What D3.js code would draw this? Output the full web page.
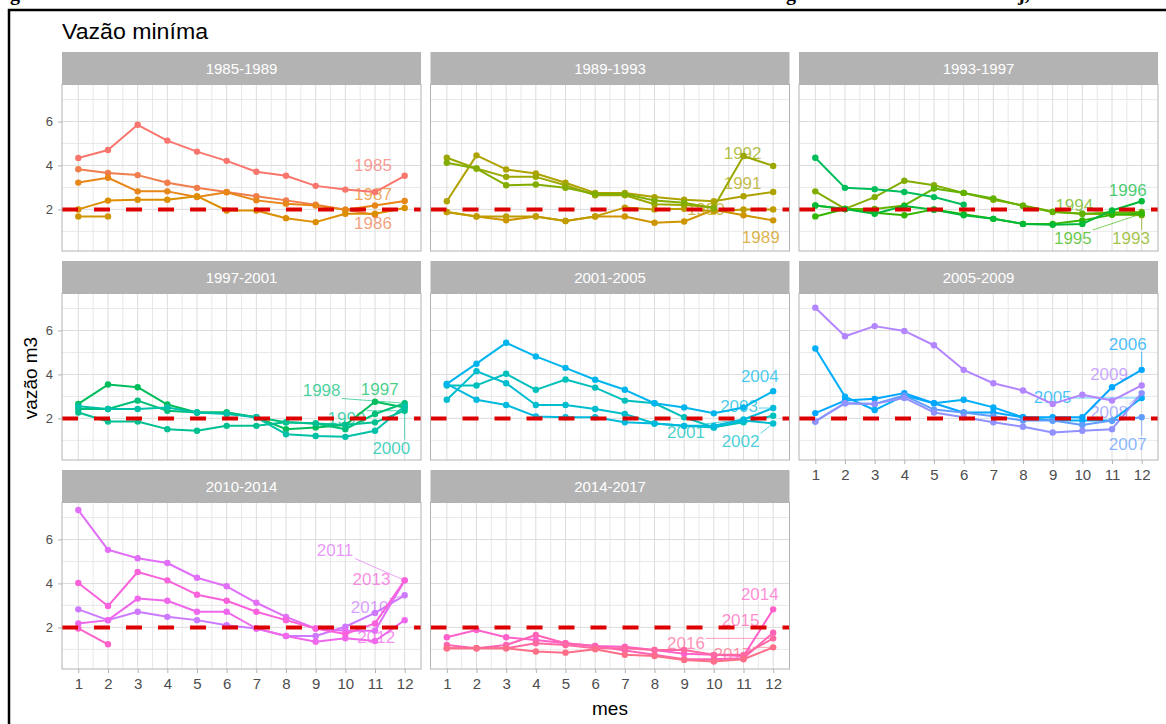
<!DOCTYPE html>
<html>
<head>
<meta charset="utf-8">
<script src="https://cdn.jsdelivr.net/npm/d3@7"></script>
<style>
  html, body { margin: 0; padding: 0; background: #fff; }
  svg { display: block; }
</style>
</head>
<body>
<svg id="chart" width="1166" height="724"></svg>
<script>
// ---------------- DATA ----------------
const months = [1,2,3,4,5,6,7,8,9,10,11,12];
const panels = ["1985-1989","1989-1993","1993-1997","1997-2001","2001-2005","2005-2009","2010-2014","2014-2017"];
const years = d3.range(1985, 2018);
const yTicks = [2,4,6];
const threshold = 2;

const p1985_1989 = [
  [1985, [4.34,4.70,5.85,5.13,4.63,4.21,3.71,3.53,3.07,2.90,2.79,3.53]],
  [1986, [3.83,3.66,3.56,3.21,2.98,2.79,2.60,2.41,2.21,1.98,1.75]],
  [1987, [3.22,3.44,2.82,2.82,2.56,2.78,2.41,2.26,2.18,1.98,2.18,2.38]],
  [1988, [2.00,2.40,2.44,2.44,2.60,1.95,1.95,1.60,1.42,1.80,1.80,2.06]],
  [1989, [1.68,1.68]]
];
const p1989_1993 = [
  [1989, [1.88,1.68,1.50,1.68,1.47,1.68,1.68,1.39,1.45,1.98,1.73,1.50]],
  [1990, [1.88,1.68,1.68,1.68,1.47,1.68,2.08,2.00,2.03,1.90,2.00,2.00]],
  [1991, [2.37,4.46,3.82,3.63,3.21,2.75,2.75,2.56,2.44,2.37,2.60,2.79]],
  [1992, [4.35,3.86,3.48,3.48,3.10,2.64,2.64,2.23,2.20,2.10,4.43,3.98]],
  [1993, [4.12,3.86,3.10,3.13,2.98,2.70,2.70,2.40,2.30,2.05]]
];
const p1993_1997 = [
  [1993, [2.82,2.02,2.56,3.30,3.10,2.75,2.44,2.18,1.90,1.80,1.78,1.73]],
  [1994, [2.18,2.02,2.02,2.18,2.95,2.75,2.50,2.15,1.88,1.80,1.85,1.88]],
  [1995, [1.68,2.02,1.85,1.73,2.00,1.78,1.57,1.34,1.34,1.50,1.75,1.80]],
  [1996, [2.18,2.02,1.80,2.15,1.98,1.73,1.57,1.34,1.30,1.34,1.95,2.37]],
  [1997, [4.35,2.98,2.92,2.79,2.56,2.21]]
];
const p1997_2001 = [
  [1997, [2.66,3.54,3.42,2.63,2.27,2.27,2.05,1.51,1.59,1.70,2.76,2.50]],
  [1998, [2.43,2.43,2.81,2.35,2.27,2.27,2.05,1.82,1.77,1.51,2.20,2.69]],
  [1999, [2.27,1.86,1.86,1.51,1.44,1.66,1.66,1.82,1.77,1.70,1.82,2.35]],
  [2000, [2.55,2.43,2.43,2.50,2.27,2.20,2.05,1.28,1.20,1.16,1.44,2.55]]
];
const p2001_2005 = [
  [2001, [3.50,3.50,4.03,3.30,3.77,3.40,2.81,2.69,2.05,1.59,1.82,2.12]],
  [2002, [2.85,4.15,3.60,2.61,2.61,2.43,2.20,1.77,1.66,1.59,1.90,1.77]],
  [2003, [3.57,2.85,2.61,2.09,2.05,2.05,1.82,1.77,1.66,1.66,1.95,2.47]],
  [2004, [3.57,4.49,5.44,4.82,4.30,3.76,3.30,2.69,2.50,2.23,2.50,3.24]]
];
const p2005_2009 = [
  [2005, [5.18,2.99,2.38,3.04,2.69,2.85,2.50,2.05,1.90,1.90,1.90,2.93]],
  [2006, [2.24,2.81,2.89,3.15,2.69,2.27,2.27,2.05,2.05,2.05,3.42,4.21]],
  [2007, [1.86,2.69,2.66,3.04,2.40,2.27,2.10,1.90,1.90,1.70,1.90,2.05]],
  [2008, [1.86,2.69,2.66,2.93,2.27,2.05,1.82,1.62,1.36,1.44,1.51,3.15]],
  [2009, [7.04,5.74,6.20,5.98,5.33,4.21,3.60,3.27,2.66,3.08,2.81,3.50]]
];
const p2010_2014 = [
  [2010, [2.82,2.33,2.71,2.48,2.33,2.10,1.95,1.61,1.61,2.03,2.66,3.46]],
  [2011, [7.34,5.53,5.15,4.93,4.26,3.87,3.12,2.48,1.95,1.85,1.85,4.14]],
  [2012, [2.18,2.33,3.31,3.21,2.71,2.71,1.95,1.61,1.35,1.50,1.38,2.33]],
  [2013, [4.02,2.97,4.52,4.14,3.49,3.21,2.71,2.33,1.95,1.70,2.18,4.14]],
  [2014, [1.95,1.23]]
];
const p2014_2017 = [
  [2014, [1.55,1.88,1.55,1.43,1.28,1.15,1.12,0.97,0.80,0.75,0.70,2.82]],
  [2015, [1.20,1.05,1.20,1.65,1.28,1.15,0.95,0.75,0.55,0.55,0.60,1.76]],
  [2016, [1.05,1.05,1.05,1.28,1.20,1.05,1.05,0.97,0.97,0.75,0.75,1.50]],
  [2017, [1.05,1.05,1.05,0.90,0.85,1.00,0.75,0.70,0.52,0.45,0.55,1.09]]
];
const panelSeries = [p1985_1989, p1989_1993, p1993_1997, p1997_2001, p2001_2005, p2005_2009, p2010_2014, p2014_2017];

// label anchors (panel index, year, month, value) in data units, as placed by the repel step
const yearLabels = [
  [0,1985,10.93,4.02],[0,1987,10.93,2.72],[0,1986,10.93,1.37],
  [1,1992,10.97,4.55],[1,1991,10.97,3.20],[1,1990,9.73,2.03],[1,1989,11.58,0.76],
  [2,1996,11.53,2.90],[2,1994,9.73,2.18],[2,1995,9.68,0.70],[2,1993,11.64,0.70],
  [3,1998,9.20,3.27],[3,1997,11.16,3.34],[3,1999,10.04,2.00],[3,2000,11.55,0.67],
  [4,2004,11.55,3.95],[4,2003,10.85,2.58],[4,2001,9.06,1.39],[4,2002,10.90,0.95],
  [5,2006,11.53,5.40],[5,2009,10.90,4.03],[5,2005,9.00,2.96],[5,2008,10.90,2.27],[5,2007,11.53,0.85],
  [6,2011,9.65,5.50],[6,2013,10.88,4.22],[6,2010,10.82,2.94],[6,2012,11.04,1.58],
  [7,2014,11.55,3.54],[7,2015,10.90,2.33],[7,2016,9.06,1.30],[7,2017,10.63,0.79]
];

// ---------------- COLOURS (ggplot hue palette, polar LUV) ----------------
function hclLuv(h, c, l) {
  const Xn = 95.047, Yn = 100, Zn = 108.883;
  const hr = h * Math.PI / 180;
  const U = c * Math.cos(hr), V = c * Math.sin(hr);
  const Y = l > 8 ? Yn * Math.pow((l + 16) / 116, 3) : Yn * l / 903.3;
  const t = Xn + 15 * Yn + 3 * Zn;
  const un = 4 * Xn / t, vn = 9 * Yn / t;
  const u = U / (13 * l) + un, v = V / (13 * l) + vn;
  const X = 9 * Y * u / (4 * v);
  const Z = -X / 3 - 5 * Y + 3 * Y / v;
  const x = X / 100, y = Y / 100, z = Z / 100;
  let r = 3.240479 * x - 1.537150 * y - 0.498535 * z;
  let g = -0.969256 * x + 1.875992 * y + 0.041556 * z;
  let b = 0.055648 * x - 0.204043 * y + 1.057311 * z;
  const gam = q => { q = q <= 0.0031308 ? 12.92 * q : 1.055 * Math.pow(q, 1 / 2.4) - 0.055; return Math.max(0, Math.min(1, q)); };
  return d3.rgb(gam(r) * 255, gam(g) * 255, gam(b) * 255).formatHex();
}
const hues = years.map((y, i) => 15 + i * 360 / years.length);
const color = d3.scaleOrdinal().domain(years).range(hues.map(h => hclLuv(h, 100, 65)));

// ---------------- LAYOUT ----------------
const svg = d3.select("#chart");
const FONT = "'Liberation Sans', Arial, sans-serif";
svg.append("rect").attr("width", 1166).attr("height", 724).attr("fill", "#fff");

// document frame and the clipped caption line above it (only descenders visible, as in the source)
svg.append("path").attr("d", "M9,724 V10 H1166").attr("fill", "none").attr("stroke", "#000").attr("stroke-width", 2.5);
const cap = svg.append("g").attr("font-family", "'Liberation Serif', 'Times New Roman', serif").attr("font-weight", "bold").attr("font-size", 20);
cap.append("text").attr("x", 10).attr("y", 0).text("g");
cap.append("text").attr("x", 786).attr("y", 0).text("g");
cap.append("text").attr("x", 1018).attr("y", 0).text("j,");

const colX = [62, 430.5, 799], colW = 359;
const rowY = [52, 261, 470], stripH = 32.5, plotH = 166.5;

const allVals = panelSeries.flatMap(p => p.flatMap(s => s[1]));
const [vmin, vmax] = d3.extent(allVals);
const vpad = (vmax - vmin) * 0.05;
const xDom = [1 - 0.55, 12 + 0.55];

panels.forEach((name, i) => {
  const col = i % 3, row = Math.floor(i / 3);
  const x0 = colX[col], top = rowY[row] + stripH, bottom = top + plotH;
  const x = d3.scaleLinear().domain(xDom).range([x0, x0 + colW]);
  const y = d3.scaleLinear().domain([vmin - vpad, vmax + vpad]).range([bottom, top]);
  const g = svg.append("g");

  // strip
  g.append("rect").attr("x", x0).attr("y", rowY[row]).attr("width", colW).attr("height", stripH).attr("fill", "#b3b3b3");
  g.append("text").attr("x", x0 + colW / 2).attr("y", rowY[row] + stripH / 2 + 5.5)
    .attr("text-anchor", "middle").attr("font-family", FONT).attr("font-size", 15).attr("fill", "#fff").text(name);

  // panel + grid
  g.append("rect").attr("x", x0).attr("y", top).attr("width", colW).attr("height", plotH).attr("fill", "#fff");
  const minorX = d3.range(1.5, 12, 1), minorY = [1, 3, 5, 7];
  g.selectAll(".gmx").data(minorX).join("line")
    .attr("x1", d => x(d)).attr("x2", d => x(d)).attr("y1", top).attr("y2", bottom)
    .attr("stroke", "#e3e3e3").attr("stroke-width", 0.8);
  g.selectAll(".gmy").data(minorY).join("line")
    .attr("x1", x0).attr("x2", x0 + colW).attr("y1", d => y(d)).attr("y2", d => y(d))
    .attr("stroke", "#e3e3e3").attr("stroke-width", 0.8);
  g.selectAll(".gx").data(months).join("line")
    .attr("x1", d => x(d)).attr("x2", d => x(d)).attr("y1", top).attr("y2", bottom)
    .attr("stroke", "#dcdcdc").attr("stroke-width", 1);
  g.selectAll(".gy").data(yTicks).join("line")
    .attr("x1", x0).attr("x2", x0 + colW).attr("y1", d => y(d)).attr("y2", d => y(d))
    .attr("stroke", "#dcdcdc").attr("stroke-width", 1);

  const clipId = "clip" + i;
  svg.append("clipPath").attr("id", clipId).append("rect").attr("x", x0).attr("y", top).attr("width", colW).attr("height", plotH);
  const inner = g.append("g").attr("clip-path", `url(#${clipId})`);

  // repelled year labels (under the lines)
  const series = panelSeries[i];
  yearLabels.filter(l => l[0] === i).forEach(l => {
    const yr = l[1];
    const s = series.find(d => d[0] === yr);
    const lx = x(l[2]), ly = y(l[3]);
    if (s) {
      const vals = s[1];
      const px = x(vals.length), py = y(vals[vals.length - 1]);
      const hw = 20, hh = 8;
      const cx = Math.max(lx - hw, Math.min(lx + hw, px));
      const cy = Math.max(ly - hh, Math.min(ly + hh, py));
      const len = Math.hypot(px - cx, py - cy);
      if (len > 14) {
        const k = (len - 3) / len;
        inner.append("line").attr("x1", cx).attr("y1", cy)
          .attr("x2", cx + (px - cx) * k).attr("y2", cy + (py - cy) * k)
          .attr("stroke", color(yr)).attr("stroke-width", 0.8).attr("opacity", 0.8);
      }
    }
    inner.append("text").attr("x", lx).attr("y", ly + 6)
      .attr("text-anchor", "middle").attr("font-family", FONT).attr("font-size", 17)
      .attr("fill", color(yr)).attr("fill-opacity", 0.72).text(yr);
  });

  // lines and points
  const line = d3.line().x((d, j) => x(j + 1)).y(d => y(d));
  series.forEach(([yr, vals]) => {
    inner.append("path").attr("d", line(vals)).attr("fill", "none")
      .attr("stroke", color(yr)).attr("stroke-width", 2).attr("stroke-linejoin", "round");
    inner.selectAll(null).data(vals).join("circle")
      .attr("cx", (d, j) => x(j + 1)).attr("cy", d => y(d)).attr("r", 3.2).attr("fill", color(yr));
  });

  // threshold line
  inner.append("line").attr("x1", x0).attr("x2", x0 + colW).attr("y1", y(threshold)).attr("y2", y(threshold))
    .attr("stroke", "#dd0000").attr("stroke-width", 4).attr("stroke-dasharray", "16,16");

  // panel border
  g.append("rect").attr("x", x0).attr("y", top).attr("width", colW).attr("height", plotH)
    .attr("fill", "none").attr("stroke", "#b3b3b3").attr("stroke-width", 1);

  // axes
  if (col === 0) {
    const ay = g.append("g").attr("transform", `translate(${x0},0)`)
      .call(d3.axisLeft(y).tickValues(yTicks).tickSize(4).tickPadding(5).tickFormat(d3.format("d")));
    ay.select(".domain").remove();
    ay.selectAll(".tick line").attr("stroke", "#b3b3b3");
    ay.selectAll(".tick text").attr("font-family", FONT).attr("font-size", 13).attr("fill", "#4d4d4d");
  }
  if (i >= 5) {
    const ax = g.append("g").attr("transform", `translate(0,${bottom})`)
      .call(d3.axisBottom(x).tickValues(months).tickSize(4).tickPadding(5).tickFormat(d3.format("d")));
    ax.select(".domain").remove();
    ax.selectAll(".tick line").attr("stroke", "#b3b3b3");
    ax.selectAll(".tick text").attr("font-family", FONT).attr("font-size", 15).attr("fill", "#4d4d4d");
  }
});

// titles
svg.append("text").attr("x", 62).attr("y", 39).attr("font-family", FONT).attr("font-size", 22)
  .attr("textLength", 146).attr("lengthAdjust", "spacingAndGlyphs")
  .attr("fill", "#000").text("Vazão miníma");
svg.append("text").attr("transform", "translate(37,378) rotate(-90)").attr("text-anchor", "middle")
  .attr("font-family", FONT).attr("font-size", 19).attr("fill", "#000").text("vazão m3");
svg.append("text").attr("x", 610).attr("y", 715).attr("text-anchor", "middle")
  .attr("font-family", FONT).attr("font-size", 19).attr("fill", "#000").text("mes");
</script>
</body>
</html>
